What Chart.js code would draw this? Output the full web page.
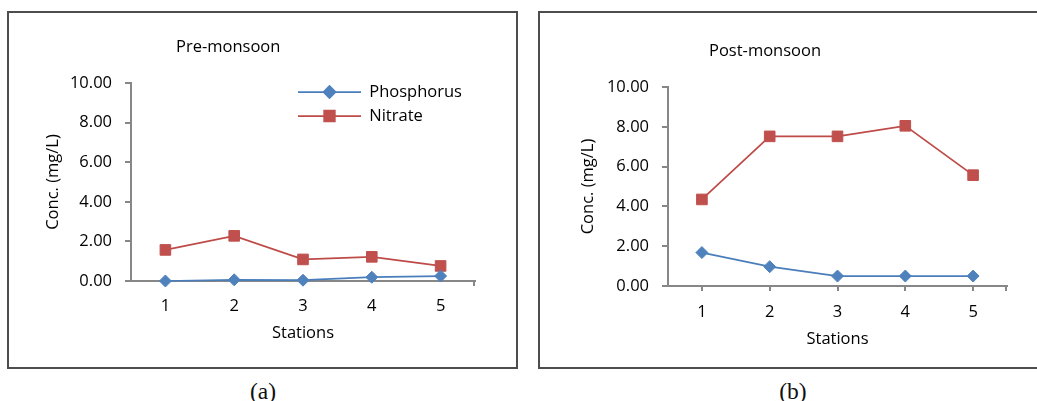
<!DOCTYPE html>
<html>
<head>
<meta charset="utf-8">
<title>Phosphorus and nitrate, pre- and post-monsoon</title>
<script src="https://cdn.jsdelivr.net/npm/chart.js@4.4.1/dist/chart.umd.min.js"></script>
<style>
  html, body { margin: 0; padding: 0; background: #fff; overflow: hidden; width: 1037px; height: 401px; }
  .frame { position: absolute; border: 2px solid #4d4d4d; box-sizing: border-box; }
  canvas { position: absolute; }
  .cap { position: absolute; font-family: "Liberation Serif", serif; font-size: 23.5px; color: #111; transform: translate(-50%, -50%); white-space: nowrap; }
</style>
</head>
<body>
<div class="frame" style="left:7px;top:11px;width:511px;height:358px"></div>
<div class="frame" style="left:538px;top:11px;width:520px;height:358px"></div>
<canvas id="pre" width="509" height="356" style="left:8px;top:12px"></canvas>
<canvas id="post" width="498" height="356" style="left:539px;top:12px"></canvas>
<div class="cap" style="left:263px;top:391px">(a)</div>
<div class="cap" style="left:793px;top:391px">(b)</div>
<script>
// values
const stations = ['1', '2', '3', '4', '5'];
const yTicks = [0, 2, 4, 6, 8, 10];
const prePhosphorus = [0.00, 0.06, 0.04, 0.19, 0.25];
const preNitrate = [1.57, 2.28, 1.09, 1.22, 0.76];
const postPhosphorus = [1.68, 0.97, 0.50, 0.50, 0.50];
const postNitrate = [4.35, 7.52, 7.52, 8.05, 5.57];

const AXIS = '#878787';
const BLUE_LINE = '#4A7EBB', BLUE = '#4F81BD';
const RED_LINE = '#BE4B48', RED = '#C0504D';

Chart.defaults.font.family = '"Open Sans", "Noto Sans", sans-serif';
Chart.defaults.font.size = 16.5;
Chart.defaults.color = '#000';

// line + marker swatch for the legend
function legendIcon(lineColor, fill, style, radius) {
  const c = document.createElement('canvas');
  c.width = 63; c.height = 14;
  const g = c.getContext('2d');
  g.strokeStyle = lineColor;
  g.lineWidth = 1.75;
  g.beginPath(); g.moveTo(0, 7); g.lineTo(63, 7); g.stroke();
  g.fillStyle = fill; g.strokeStyle = fill;
  Chart.helpers.drawPoint(g, { pointStyle: style, radius: radius, rotation: 0, borderWidth: 1 }, 31.5, 7);
  return c;
}
const icons = [legendIcon(BLUE_LINE, BLUE, 'rectRot', 6), legendIcon(RED_LINE, RED, 'rect', 7.5)];

// move title and legend to where the figure has them
const placeBoxes = {
  id: 'placeBoxes',
  afterLayout(chart, args, opts) {
    const t = chart.titleBlock;
    if (t && opts.titleX != null) {
      const w = t.right - t.left;
      t.left = opts.titleX; t.right = opts.titleX + w;
    }
    const l = chart.legend;
    if (l && opts.legendX != null) {
      const p = l.options.labels.padding;
      l.left = opts.legendX - p;
      l.top = opts.legendY - p;
      l.bottom = chart.chartArea.bottom;
    }
  }
};

// small tick closing the category axis on the right
const axisEnd = {
  id: 'axisEnd',
  afterDraw(chart) {
    const x = chart.scales.x, ctx = chart.ctx;
    ctx.save();
    ctx.strokeStyle = AXIS;
    ctx.lineWidth = 2;
    ctx.beginPath();
    ctx.moveTo(Math.round(x.right) - 1, x.top);
    ctx.lineTo(Math.round(x.right) - 1, x.top + 5);
    ctx.stroke();
    ctx.restore();
  }
};

function makeChart(id, title, phos, nitr, g) {
  return new Chart(document.getElementById(id), {
    type: 'line',
    data: {
      labels: stations,
      datasets: [
        {
          label: 'Phosphorus', data: phos,
          borderColor: BLUE_LINE, backgroundColor: BLUE,
          pointStyle: 'rectRot', pointRadius: 6, pointBorderColor: BLUE, pointBorderWidth: 1,
          borderWidth: 1.75, clip: false
        },
        {
          label: 'Nitrate', data: nitr,
          borderColor: RED_LINE, backgroundColor: RED,
          pointStyle: 'rect', pointRadius: 7.5, pointBorderColor: RED, pointBorderWidth: 1,
          borderWidth: 1.75, clip: false
        }
      ]
    },
    options: {
      responsive: false,
      animation: false,
      events: [],
      layout: { padding: { left: 10, right: g.padRight, top: 0, bottom: 7 } },
      plugins: {
        title: {
          display: true, text: title, align: 'start',
          font: { size: 16.5, weight: 'normal' },
          padding: { top: g.titleTop, bottom: g.titleBottom }
        },
        legend: {
          display: g.legend,
          position: 'chartArea',
          align: 'start',
          labels: {
            usePointStyle: true, pointStyleWidth: 63, padding: 7.5,
            font: { size: 16.5 },
            generateLabels(chart) {
              const items = Chart.defaults.plugins.legend.labels.generateLabels(chart);
              items.forEach((it, i) => { it.pointStyle = icons[i]; });
              return items;
            }
          }
        },
        tooltip: { enabled: false },
        placeBoxes: { titleX: g.titleX, legendX: g.legend ? 290 : null, legendY: 71.75 }
      },
      scales: {
        x: {
          offset: true,
          afterFit(s) { s.height = g.xHeight; },
          grid: {
            offset: g.xTickOffset,
            drawOnChartArea: false, drawTicks: true, tickLength: 5, lineWidth: 2,
            color: g.xTickOffset ? 'rgba(0,0,0,0)' : AXIS
          },
          border: { display: true, color: AXIS, width: 2 },
          ticks: { padding: g.xLabelPad, maxRotation: 0 },
          title: { display: true, text: 'Stations', padding: { top: 0, bottom: g.xTitlePad } }
        },
        y: {
          min: 0, max: 10,
          afterFit(s) { s.width = g.yWidth; },
          afterBuildTicks(s) { s.ticks = yTicks.map(v => ({ value: v })); },
          grid: { drawOnChartArea: false, drawTicks: true, tickLength: 6, lineWidth: 2, color: AXIS },
          border: { display: true, color: AXIS, width: 2 },
          ticks: { padding: 13, callback: v => Number(v).toFixed(2) },
          title: { display: true, text: 'Conc. (mg/L)', padding: { top: g.yTitlePad, bottom: 0 } }
        }
      }
    },
    plugins: [placeBoxes, axisEnd]
  });
}

makeChart('pre', 'Pre-monsoon', prePhosphorus, preNitrate, {
  padRight: 42, titleX: 168, titleTop: 25.1, titleBottom: 26.1,
  yWidth: 113, yTitlePad: 25.1,
  xHeight: 80, xLabelPad: 10.1, xTitlePad: 18.1, xTickOffset: true,
  legend: true
});

makeChart('post', 'Post-monsoon', postPhosphorus, postNitrate, {
  padRight: 30, titleX: 170, titleTop: 29.1, titleBottom: 26.1,
  yWidth: 119, yTitlePad: 29.1,
  xHeight: 75, xLabelPad: 11.1, xTitlePad: 12.1, xTickOffset: false,
  legend: false
});
</script>
</body>
</html>
